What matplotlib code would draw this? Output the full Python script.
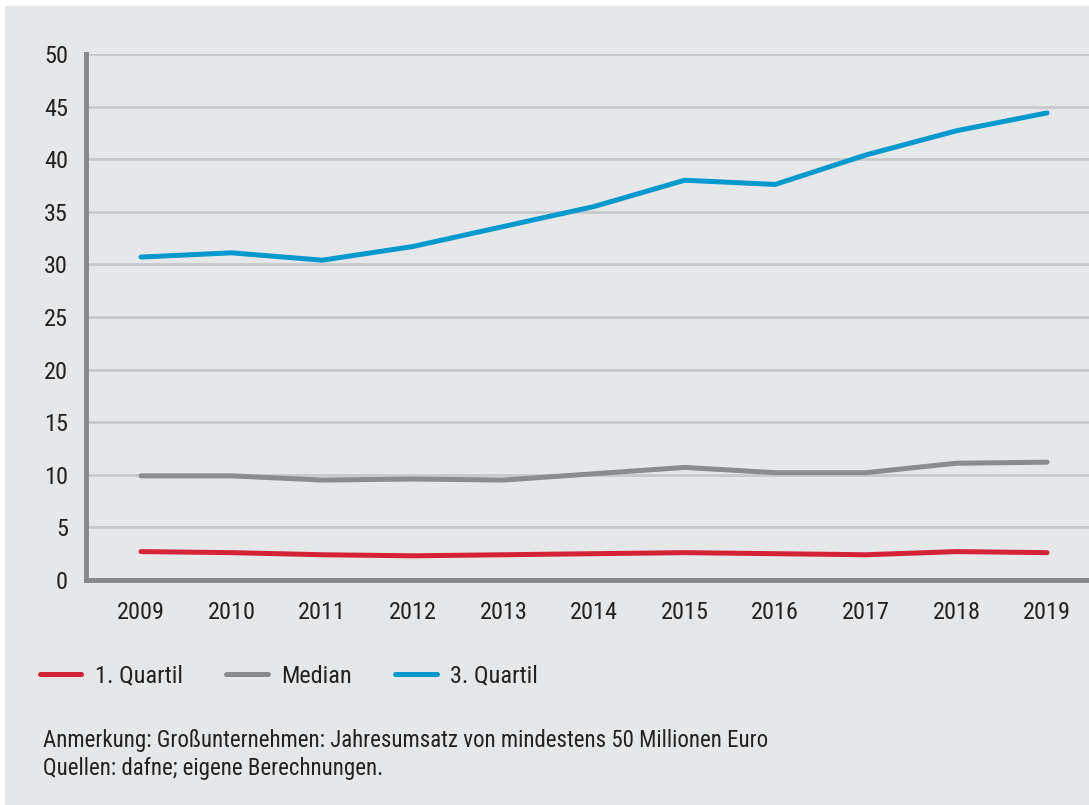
import matplotlib
matplotlib.use("Agg")
import matplotlib.pyplot as mp
from matplotlib import font_manager
from matplotlib.patches import Rectangle
from matplotlib.lines import Line2D

# values
years = [2009, 2010, 2011, 2012, 2013, 2014, 2015, 2016, 2017, 2018, 2019]
q1 = [2.7, 2.6, 2.4, 2.3, 2.4, 2.5, 2.6, 2.5, 2.4, 2.7, 2.6]
median = [9.9, 9.9, 9.5, 9.6, 9.5, 10.1, 10.7, 10.2, 10.2, 11.1, 11.2]
q3 = [30.7, 31.1, 30.4, 31.7, 33.6, 35.5, 38.0, 37.6, 40.4, 42.7, 44.4]
labels = ["1. Quartil", "Median", "3. Quartil"]
y_ticks = [0, 5, 10, 15, 20, 25, 30, 35, 40, 45, 50]

note_1 = "Anmerkung: Großunternehmen: Jahresumsatz von mindestens 50 Millionen Euro"
note_2 = "Quellen: dafne; eigene Berechnungen."

bg = "#e6e7e9"
red = "#d42236"
grey = "#8b8c8e"
blue = "#0599cd"
text_col = "#222222"

# look for a narrow font, fall back to DejaVu Sans
names = set(f.name for f in font_manager.fontManager.ttflist)
narrow = None
for cand in ["Liberation Sans Narrow", "Roboto Condensed", "Open Sans Condensed",
             "DejaVu Sans Condensed", "Noto Sans Condensed"]:
    if cand in names:
        narrow = cand
        break
if narrow:
    mp.rcParams['font.family'] = [narrow, 'DejaVu Sans']
else:
    mp.rcParams['font.family'] = ['DejaVu Sans']
    mp.rcParams['font.stretch'] = 'condensed'

W, H = 1089, 805
fig = mp.figure(figsize=(W / 100, H / 100), dpi=100, facecolor="white")
# grey panel with a thin white strip at top and left
fig.patches.append(Rectangle((5 / W, 0), 1, 1 - 6 / H, transform=fig.transFigure,
                             facecolor=bg, edgecolor="none", zorder=-10))

ax = fig.add_axes([86 / W, 1 - 580 / H, 1 - 86 / W, (580 - 54) / H])
ax.set_facecolor(bg)
ax.patch.set_alpha(0)

ax.plot(years, q1, color=red, lw=3.6, solid_capstyle="round", zorder=3)
ax.plot(years, median, color=grey, lw=3.6, solid_capstyle="round", zorder=3)
ax.plot(years, q3, color=blue, lw=3.6, solid_capstyle="round", zorder=3)

ax.set_xlim(2009 - 55 / 90.6, 2019 + 42 / 90.6)
ax.set_ylim(0, 50)
ax.set_yticks(y_ticks)
ax.set_xticks(years)
ax.set_xticklabels([str(y) for y in years])
ax.yaxis.grid(True, color="#c7c8ca", lw=2, zorder=1)
ax.set_axisbelow(True)

for s in ["top", "right"]:
    ax.spines[s].set_visible(False)
for s in ["left", "bottom"]:
    ax.spines[s].set_color("#868789")
    ax.spines[s].set_linewidth(3.5)
    ax.spines[s].set_zorder(4)

ax.tick_params(axis="both", length=0, labelsize=17.5, colors=text_col)
ax.tick_params(axis="y", pad=13)
ax.tick_params(axis="x", pad=15)

handles = [Line2D([], [], color=c, lw=3.6, solid_capstyle="round") for c in (red, grey, blue)]
fig.legend(handles, labels, loc="center left", bbox_to_anchor=(18 / W, 1 - 676 / H),
           ncol=3, frameon=False, fontsize=17.5, handlelength=1.7, handletextpad=0.55,
           columnspacing=1.8, labelcolor=text_col)

fig.text(43 / W, 1 - 740 / H, note_1, fontsize=16.5, color=text_col, va="center")
fig.text(43 / W, 1 - 768 / H, note_2, fontsize=16.5, color=text_col, va="center")

fig.savefig("out.png", dpi=100, facecolor=fig.get_facecolor())
